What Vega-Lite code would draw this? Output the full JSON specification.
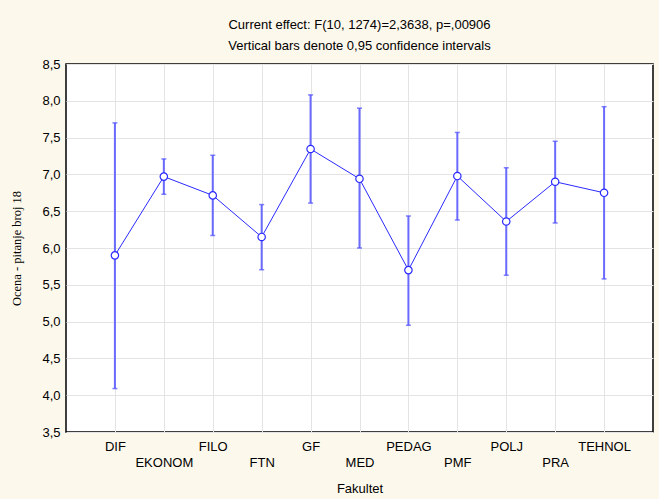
{
  "$schema": "https://vega.github.io/schema/vega-lite/v6.json",
  "width": 587,
  "height": 368,
  "autosize": {"type": "none"},
  "padding": {"left": 66, "top": 64, "right": 6, "bottom": 67},
  "background": "#fdf8ec",
  "title": {
    "text": ["Current effect: F(10, 1274)=2,3638, p=,00906", "Vertical bars denote 0,95 confidence intervals"],
    "font": "Liberation Sans",
    "fontSize": 13,
    "fontWeight": "normal",
    "lineHeight": 21,
    "color": "#000000",
    "anchor": "middle",
    "offset": 5
  },
  "config": {
    "view": {"fill": "#ffffff", "stroke": "#000000", "strokeWidth": 1.5},
    "axis": {
      "labelFont": "Liberation Sans",
      "labelFontSize": 13,
      "labelColor": "#000000",
      "labelOverlap": false,
      "titleFont": "Liberation Sans",
      "titleFontSize": 13,
      "titleFontWeight": "normal",
      "titleColor": "#000000",
      "gridColor": "#e4e4e4",
      "gridWidth": 1,
      "domain": false,
      "ticks": false
    },
    "axisY": {
      "labelOverlap": false,
      "tickCount": 20,
      "labelPadding": 6,
      "titlePadding": 18,
      "titleFont": "Liberation Serif",
      "titleFontSize": 12.5
    }
  },
  "data": {
    "values": [
      {"Fakultet": "DIF", "mean": 5.90, "lo": 4.09, "hi": 7.70},
      {"Fakultet": "EKONOM", "mean": 6.97, "lo": 6.73, "hi": 7.21},
      {"Fakultet": "FILO", "mean": 6.715, "lo": 6.17, "hi": 7.26},
      {"Fakultet": "FTN", "mean": 6.15, "lo": 5.705, "hi": 6.59},
      {"Fakultet": "GF", "mean": 7.345, "lo": 6.61, "hi": 8.08},
      {"Fakultet": "MED", "mean": 6.94, "lo": 6.0, "hi": 7.90},
      {"Fakultet": "PEDAG", "mean": 5.70, "lo": 4.95, "hi": 6.435},
      {"Fakultet": "PMF", "mean": 6.978, "lo": 6.38, "hi": 7.57},
      {"Fakultet": "POLJ", "mean": 6.36, "lo": 5.63, "hi": 7.09},
      {"Fakultet": "PRA", "mean": 6.90, "lo": 6.34, "hi": 7.45},
      {"Fakultet": "TEHNOL", "mean": 6.75, "lo": 5.58, "hi": 7.92}
    ]
  },
  "encoding": {
    "x": {
      "field": "Fakultet",
      "type": "nominal",
      "sort": null,
      "scale": {"type": "point", "padding": 1},
      "axis": {
        "title": "Fakultet",
        "labelAngle": 0,
        "labelPadding": 8,
        "labelLineHeight": 16,
        "labelBaseline": "top",
        "labelExpr": "indexof(['EKONOM','FTN','MED','PMF','PRA'], datum.value) >= 0 ? ['', datum.label] : datum.label",
        "titlePadding": 13,
        "grid": true
      }
    }
  },
  "layer": [
    {
      "mark": {"type": "rule", "color": "#6a6aff", "strokeWidth": 2},
      "encoding": {
        "y": {
          "field": "lo",
          "type": "quantitative",
          "scale": {"domain": [3.5, 8.5], "nice": false, "zero": false},
          "axis": {"title": "Ocena - pitanje broj 18", "values": [3.5, 4, 4.5, 5, 5.5, 6, 6.5, 7, 7.5, 8, 8.5], "tickCount": 20, "labelExpr": "replace(format(datum.value, '.1f'), '.', ',')", "labelOverlap": false, "grid": true}
        },
        "y2": {"field": "hi"}
      }
    },
    {
      "mark": {"type": "tick", "color": "#4d4dff", "orient": "horizontal", "size": 5, "thickness": 1.5},
      "encoding": {"y": {"field": "lo", "type": "quantitative"}}
    },
    {
      "mark": {"type": "tick", "color": "#4d4dff", "orient": "horizontal", "size": 5, "thickness": 1.5},
      "encoding": {"y": {"field": "hi", "type": "quantitative"}}
    },
    {
      "mark": {"type": "line", "color": "#2a2aff", "strokeWidth": 1},
      "encoding": {"y": {"field": "mean", "type": "quantitative"}}
    },
    {
      "mark": {"type": "point", "shape": "circle", "filled": true, "fill": "#ffffff", "stroke": "#2a2aff", "strokeWidth": 1.2, "size": 55, "opacity": 1},
      "encoding": {"y": {"field": "mean", "type": "quantitative"}}
    }
  ]
}
